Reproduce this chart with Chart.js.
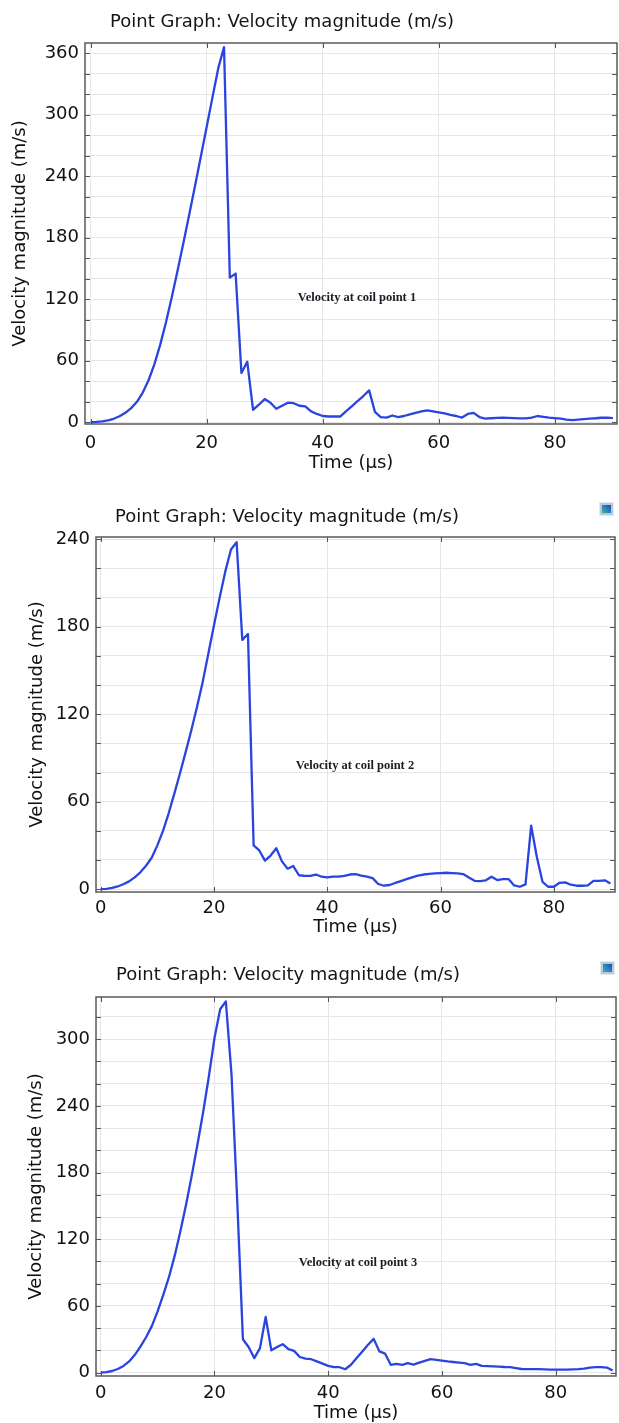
<!DOCTYPE html>
<html>
<head>
<meta charset="utf-8">
<script src="https://cdn.jsdelivr.net/npm/chart.js@4.4.0/dist/chart.umd.min.js"></script>
<style>
html, body { margin: 0; padding: 0; background: #fff; }
body { width: 619px; height: 1423px; position: relative; overflow: hidden; }
canvas { position: absolute; left: 0; }
</style>
</head>
<body>
<canvas id="c1" width="619" height="480" style="top:0px"></canvas>
<canvas id="c2" width="619" height="470" style="top:480px"></canvas>
<canvas id="c3" width="619" height="480" style="top:950px"></canvas>
<script>
// time axis (µs), one sample per µs
var timeUs = [0,1,2,3,4,5,6,7,8,9,10,11,12,13,14,15,16,17,18,19,20,21,22,23,24,25,26,27,28,29,
  30,31,32,33,34,35,36,37,38,39,40,41,42,43,44,45,46,47,48,49,50,51,52,53,54,55,56,57,58,59,
  60,61,62,63,64,65,66,67,68,69,70,71,72,73,74,75,76,77,78,79,80,81,82,83,84,85,86,87,88,89,90];

// velocity magnitude (m/s) at coil point 1
var velPoint1 = [0,0.2,0.7,1.7,3.3,5.7,9.1,13.7,19.9,28.9,
  40.9,56.4,75.4,97.4,121.9,147.9,174.9,202.4,230.4,258.9,
  287.7,316.7,345.2,366,141,145,48,59,12,17,
  22.5,19,13,16,19,18.5,16,15.5,10.5,8,
  6,5.5,5.5,5.5,10.5,15.5,20.5,25.5,31,10,
  5,4.5,6.5,5,6,7.5,9,10.5,11.5,10.5,
  9.5,8.5,7,6,4.5,8,9,5,3.5,3.8,
  4.2,4.4,4.2,4,3.6,3.6,4.5,6,5.2,4.5,
  4,3.5,2.5,2,2.5,3,3.5,3.8,4.3,4.5,
  4];

// coil point 2
var velPoint2 = [0,0.2,0.8,1.8,3.3,5.3,8,11.5,16,21.5,
  30,40,52,65.5,79.5,94,109,125,142,161.5,
  181,200,218,233,238,171,175,30,26.5,19.5,
  23,28,19,14,15.8,9.5,9,9,10,8.5,
  8,8.5,8.5,9,10,10.3,9.3,8.5,7.5,3.5,
  2.3,2.8,4.2,5.5,6.8,8,9.2,10,10.5,10.8,
  11,11.2,11,10.8,10.3,8,5.7,5.5,6,8.5,
  6.2,6.8,6.9,2.5,1.6,3.2,43.5,22,5,1.6,
  1.6,4.3,4.6,3,2.3,2.3,2.5,5.7,5.7,6,
  3.9];

// coil point 3
var velPoint3 = [0,0.4,1.4,3.2,6,10,16,23.5,32,42,
  55,70,86,105,127,151,177,205,234,266,
  301,327,334,268,155,30,23,13,22,50,
  20,23,25.5,21,19.5,14,12.5,12,10,8,
  6,4.8,4.8,3,7,13,19,25,30.3,19,
  17,7,7.8,7,8.4,7.2,9,10.5,12,11.5,
  10.8,10,9.5,9,8.4,7,7.8,6,5.7,5.5,
  5.4,5,4.8,4,3.2,3,3,3,2.8,2.7,
  2.7,2.7,2.7,2.8,3,3.5,4.5,4.8,4.8,4.5,
  1.8];

var yLabelStep = [60, 60, 60];
var noteTexts = ['Velocity at coil point 1', 'Velocity at coil point 2', 'Velocity at coil point 3'];
var plotTitle = 'Point Graph: Velocity magnitude (m/s)';

// page placement of each panel
var panels = [
  { id: 'c1', h: 480, left: 85, right: 617, top: 43, bottom: 424, xMin: -0.95, xMax: 90.7, yMin: -1.8, yMax: 370,
    titleX: 282, titleY: 22, yTitlePad: 9.2, xTickPad: 8.2, xTitleY: 463, noteX: 357, noteY: 298, icon: null },
  { id: 'c2', h: 470, left: 96, right: 615, top: 57, bottom: 412, xMin: -0.83, xMax: 90.8, yMin: -2, yMax: 241.6,
    titleX: 287, titleY: 37, yTitlePad: 26.2, xTickPad: 5.2, xTitleY: 447, noteX: 355, noteY: 286, icon: [601, 24] },
  { id: 'c3', h: 480, left: 96, right: 616, top: 47, bottom: 426, xMin: -0.83, xMax: 90.6, yMin: -3.1, yMax: 338,
    titleX: 288, titleY: 25, yTitlePad: 25.2, xTickPad: 6.2, xTitleY: 463, noteX: 358, noteY: 313, icon: [602, 13] }
];
var series = [velPoint1, velPoint2, velPoint3];

var frame = {
  id: 'frame',
  beforeDatasetsDraw: function(chart) {
    var ctx = chart.ctx, a = chart.chartArea, xs = chart.scales.x, ys = chart.scales.y;
    ctx.save();
    ctx.strokeStyle = '#555';
    ctx.lineWidth = 1;
    ctx.beginPath();
    ys.ticks.forEach(function(t) {
      var py = Math.round(ys.getPixelForValue(t.value)) + 0.5;
      ctx.moveTo(a.left, py); ctx.lineTo(a.left + 5, py);
      ctx.moveTo(a.right - 5, py); ctx.lineTo(a.right, py);
    });
    xs.ticks.forEach(function(t) {
      var px = Math.round(xs.getPixelForValue(t.value)) + 0.5;
      ctx.moveTo(px, a.bottom); ctx.lineTo(px, a.bottom - 5);
      ctx.moveTo(px, a.top); ctx.lineTo(px, a.top + 5);
    });
    ctx.stroke();
    ctx.strokeStyle = '#5a5a5a';
    ctx.lineWidth = 1.5;
    ctx.strokeRect(a.left, a.top, a.right - a.left, a.bottom - a.top);
    ctx.restore();
  },
  afterDraw: function(chart, args, o) {
    var ctx = chart.ctx;
    ctx.save();
    ctx.fillStyle = '#151515';
    ctx.font = '18px "DejaVu Sans"';
    ctx.textAlign = 'center';
    ctx.textBaseline = 'middle';
    ctx.fillText(o.title, o.titleX, o.titleY);
    ctx.fillStyle = '#1d1b24';
    ctx.font = 'bold 12.5px "Liberation Serif"';
    ctx.fillText(o.note, o.noteX, o.noteY);
    if (o.icon) {
      var x = o.icon[0], y = o.icon[1];
      ctx.fillStyle = '#e3ebf0';
      ctx.fillRect(x - 2, y - 2, 15, 14);
      ctx.fillStyle = '#b9cad6';
      ctx.fillRect(x - 1, y - 1, 13, 12);
      var g = ctx.createLinearGradient(x, y + 10, x + 11, y);
      g.addColorStop(0, '#5bbf3c');
      g.addColorStop(0.45, '#2b86cf');
      g.addColorStop(1, '#1b3f9a');
      ctx.fillStyle = g;
      ctx.fillRect(x + 1, y + 1, 9, 8);
    }
    ctx.restore();
  }
};

panels.forEach(function(p, i) {
  var vals = series[i];
  var pts = timeUs.map(function(t, k) { return { x: t, y: vals[k] }; });
  var step = yLabelStep[i];
  new Chart(document.getElementById(p.id), {
    type: 'line',
    data: {
      datasets: [{
        data: pts,
        borderColor: '#2a44e0',
        borderWidth: 2.3,
        borderJoinStyle: 'round',
        pointRadius: 0,
        tension: 0,
        fill: false
      }]
    },
    options: {
      responsive: false,
      animation: false,
      devicePixelRatio: 1,
      layout: { padding: { left: 0, top: p.top, right: 619 - p.right, bottom: p.h - (p.xTitleY + 10.8) } },
      plugins: {
        legend: { display: false },
        tooltip: { enabled: false },
        frame: { title: plotTitle, titleX: p.titleX, titleY: p.titleY, note: noteTexts[i], noteX: p.noteX, noteY: p.noteY, icon: p.icon }
      },
      scales: {
        x: {
          type: 'linear',
          min: p.xMin,
          max: p.xMax,
          afterFit: function(s) { s.height = p.xTitleY + 10.8 - p.bottom; },
          border: { display: false },
          grid: { color: '#e6e6e6', drawTicks: false },
          ticks: {
            stepSize: 20, includeBounds: false, autoSkip: false, maxRotation: 0,
            padding: p.xTickPad, color: '#111', font: { family: 'DejaVu Sans', size: 18 }
          },
          title: { display: true, text: 'Time (µs)', color: '#111', padding: { top: 0, bottom: 0 },
            font: { family: 'DejaVu Sans', size: 18 } }
        },
        y: {
          min: p.yMin,
          max: p.yMax,
          afterFit: function(s) { s.width = p.left; },
          border: { display: false },
          grid: { color: '#e6e6e6', drawTicks: false },
          ticks: {
            stepSize: 20, includeBounds: false, autoSkip: false,
            padding: 6, color: '#111', font: { family: 'DejaVu Sans', size: 18 },
            callback: function(v) { return v % step === 0 ? v : ''; }
          },
          title: { display: true, text: 'Velocity magnitude (m/s)', color: '#111', padding: { top: p.yTitlePad, bottom: 0 },
            font: { family: 'DejaVu Sans', size: 18 } }
        }
      }
    },
    plugins: [frame]
  });
});
</script>
</body>
</html>
